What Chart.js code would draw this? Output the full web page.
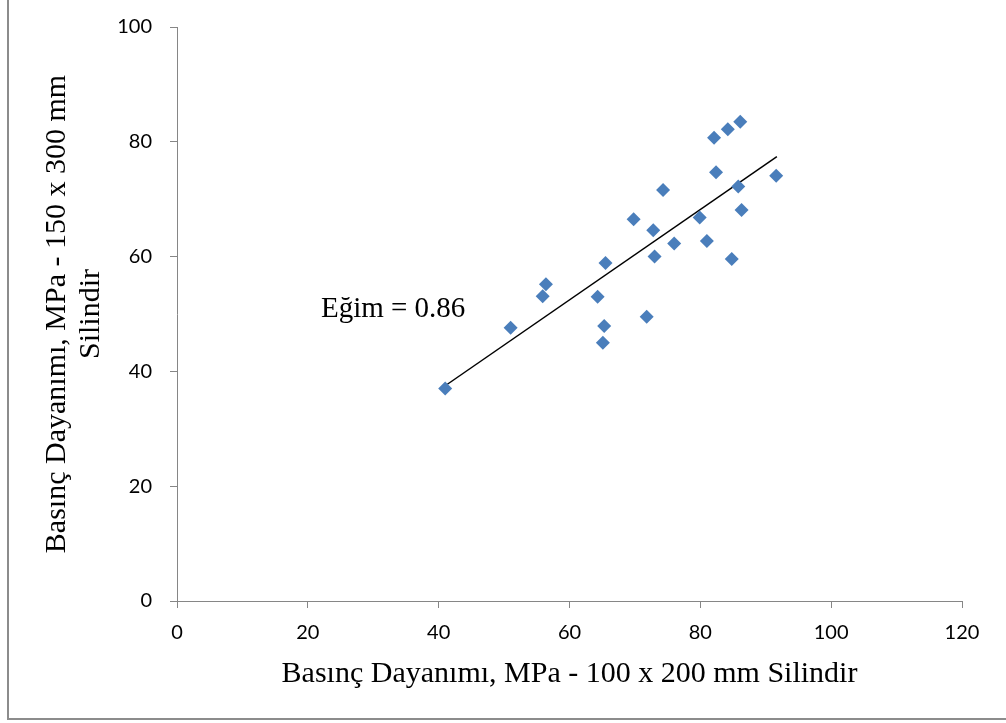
<!DOCTYPE html>
<html>
<head>
<meta charset="utf-8">
<script src="https://cdn.jsdelivr.net/npm/chart.js@4/dist/chart.umd.min.js"></script>
<style>
  body { margin: 0; background: #fff; }
</style>
</head>
<body>
<canvas id="scatter-chart" width="1006" height="723"></canvas>
<script>
// 100x200 mm cylinder strength (x) vs 150x300 mm cylinder strength (y), MPa
var xValues = [41.0, 51.0, 55.9, 56.4, 64.3, 65.5, 65.3, 65.1, 69.8, 71.8, 72.8, 73.0,
               74.3, 76.0, 79.9, 81.0, 82.1, 82.4, 84.2, 84.8, 85.8, 86.1, 86.3, 91.6];
var yValues = [37.0, 47.6, 53.1, 55.2, 53.0, 58.9, 47.9, 45.0, 66.5, 49.5, 64.6, 60.0,
               71.6, 62.3, 66.8, 62.7, 80.7, 74.7, 82.2, 59.6, 72.2, 83.5, 68.1, 74.1];

// fitted line end points
var trendX = [41.0, 91.7];
var trendY = [37.5, 77.4];

var xTicks = [0, 20, 40, 60, 80, 100, 120];
var yTicks = [0, 20, 40, 60, 80, 100];

var slopeLabel = 'Eğim = 0.86';
var slopeLabelAt = [22, 50.8];

var serif = "'Liberation Serif', 'Times New Roman', serif";
var axisGrey = '#868686';

var points = xValues.map(function(x, i) { return { x: x, y: yValues[i] }; });
var trend = trendX.map(function(x, i) { return { x: x, y: trendY[i] }; });

var frame = {
  id: 'frame',
  beforeDraw: function(chart) {
    var ctx = chart.ctx;
    ctx.save();
    ctx.fillStyle = '#fff';
    ctx.fillRect(0, 0, chart.width, chart.height);
    ctx.fillStyle = '#8c8c8c';
    ctx.fillRect(7, 0, 2, 720);
    ctx.fillRect(7, 718, chart.width - 7, 2);
    ctx.restore();
  }
};

var slopeText = {
  id: 'slopeText',
  afterDatasetsDraw: function(chart) {
    var ctx = chart.ctx;
    var x = chart.scales.x.getPixelForValue(slopeLabelAt[0]);
    var y = chart.scales.y.getPixelForValue(slopeLabelAt[1]);
    ctx.save();
    ctx.font = '29px ' + serif;
    ctx.fillStyle = '#000';
    ctx.textAlign = 'left';
    ctx.textBaseline = 'middle';
    ctx.fillText(slopeLabel, x, y);
    ctx.restore();
  }
};

var ctx = document.getElementById('scatter-chart').getContext('2d');
var myChart = new Chart(ctx, {
  type: 'scatter',
  data: {
    datasets: [{
      data: points,
      pointStyle: 'rectRot',
      pointRadius: 7,
      pointHoverRadius: 7,
      backgroundColor: '#4A7EBB',
      borderColor: '#4A7EBB',
      borderWidth: 0
    }, {
      type: 'line',
      data: trend,
      borderColor: '#000',
      borderWidth: 1.5,
      pointRadius: 0,
      fill: false
    }]
  },
  options: {
    responsive: false,
    animation: false,
    events: [],
    layout: { padding: { top: 27, right: 44, left: 0, bottom: 0 } },
    plugins: {
      legend: { display: false },
      tooltip: { enabled: false }
    },
    scales: {
      x: {
        type: 'linear',
        min: 0,
        max: 120,
        afterBuildTicks: function(scale) { scale.ticks = xTicks.map(function(v) { return { value: v }; }); },
        afterFit: function(scale) { scale.height = 122; },
        grid: { drawOnChartArea: false, drawTicks: true, tickLength: 7, color: axisGrey },
        border: { display: true, color: axisGrey, width: 1 },
        ticks: { padding: 13, color: '#000', font: { family: 'Lato', size: 20 } },
        title: {
          display: true,
          text: 'Basınç Dayanımı, MPa - 100 x 200 mm Silindir',
          color: '#000',
          font: { family: serif, size: 30, lineHeight: 34 / 30 },
          padding: { top: 0, bottom: 32 }
        }
      },
      y: {
        type: 'linear',
        min: 0,
        max: 100,
        afterBuildTicks: function(scale) { scale.ticks = yTicks.map(function(v) { return { value: v }; }); },
        afterFit: function(scale) {
          scale.width = 177;
          scale.paddingTop = 0;
          scale.paddingBottom = 0;
        },
        grid: { drawOnChartArea: false, drawTicks: true, tickLength: 7, color: axisGrey },
        border: { display: true, color: axisGrey, width: 1 },
        ticks: { padding: 18, color: '#000', font: { family: 'Lato', size: 20 } },
        title: {
          display: true,
          text: ['Basınç Dayanımı, MPa - 150 x 300 mm', 'Silindir'],
          color: '#000',
          font: { family: serif, size: 30, lineHeight: 34 / 30 },
          padding: { top: 40, bottom: 0 }
        }
      }
    }
  },
  plugins: [frame, slopeText]
});
</script>
</body>
</html>
